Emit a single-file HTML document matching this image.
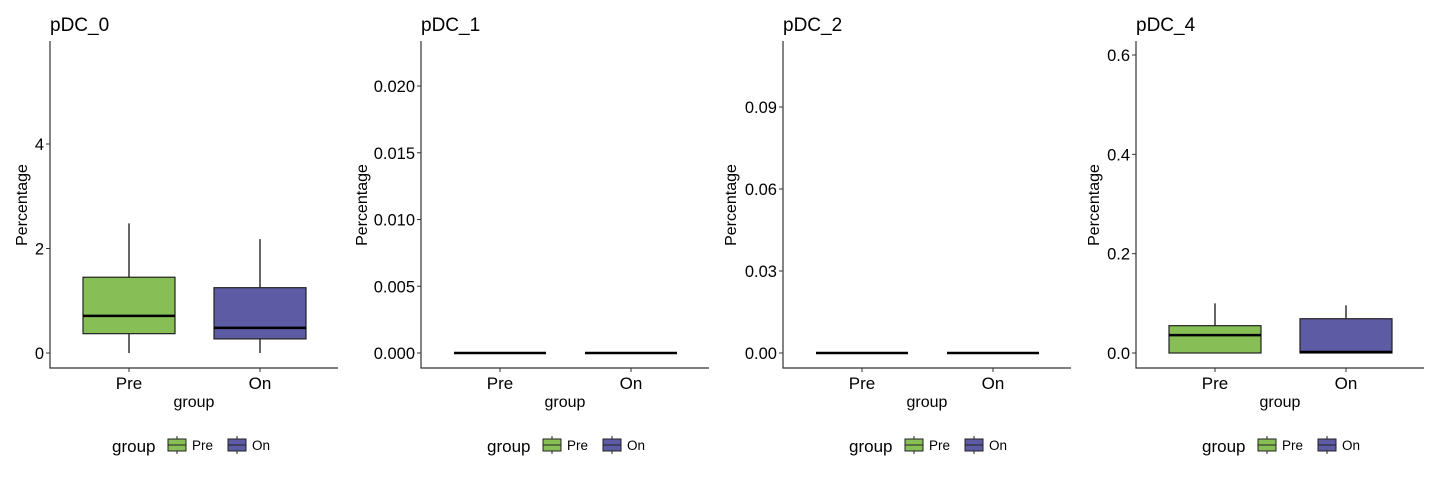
<!DOCTYPE html>
<html><head><meta charset="utf-8"><style>
html,body{margin:0;padding:0;background:#fff}
svg{display:block;font-family:"Liberation Sans",Arial,sans-serif}
</style></head><body>
<svg id="chart" width="1440" height="480"></svg>
<script>
const panelTitles = ["pDC_0","pDC_1","pDC_2","pDC_4"];
const categories = ["Pre","On"];
const tickValues = [[0,2,4],[0,0.005,0.01,0.015,0.02],[0,0.03,0.06,0.09],[0,0.2,0.4,0.6]];
const tickLabels = [["0","2","4"],["0.000","0.005","0.010","0.015","0.020"],["0.00","0.03","0.06","0.09"],["0.0","0.2","0.4","0.6"]];
// [min,q1,median,q3,max] per category
const preStats = [[0,0.37,0.71,1.45,2.48],[0,0,0,0,0],[0,0,0,0,0],[0,0,0.036,0.055,0.1]];
const onStats = [[0,0.27,0.48,1.25,2.18],[0,0,0,0,0],[0,0,0,0,0],[0,0,0.002,0.069,0.096]];
const colors = ["#88BE56","#5E5BA5"];

const NS="http://www.w3.org/2000/svg";
const svg=document.getElementById('chart');
function mk(tag,attrs,parent,text){const e=document.createElementNS(NS,tag);for(const k in attrs)e.setAttribute(k,attrs[k]);if(text!==undefined)e.textContent=text;(parent||svg).appendChild(e);return e;}
const axisXs=[50,421,783,1136];
const yTitleXs=[27,367,736,1099];
const legendXs=[112,487,849,1202];
const topTickY=[144,86,107,55];
const y0=353, axisBottom=368, axisTop=41, panelW=288;
panelTitles.forEach((title,p)=>{
  const ax=axisXs[p];
  const tmax=tickValues[p][tickValues[p].length-1];
  const y=v=>y0-v*(y0-topTickY[p])/tmax;
  const x=i=>ax+79+i*131;
  const g=mk('g',{},svg);
  
  
  const t=mk('text',{x:ax,y:31,'font-size':19,fill:'#000'},g,title);
  
  const axl=mk('path',{d:`M${ax} ${axisTop}V${axisBottom}H${ax+panelW}`,stroke:'#333',fill:'none','stroke-width':1.2},g);
  
  tickValues[p].forEach((v,k)=>{
    mk('line',{x1:ax-4,x2:ax,y1:y(v),y2:y(v),stroke:'#333'},g);
    const tl=mk('text',{x:ax-6,y:y(v)+6,'text-anchor':'end','font-size':16.5,fill:'#000'},g,tickLabels[p][k]);
    
  });
  const yt=mk('text',{transform:`translate(${yTitleXs[p]},${205}) rotate(-90)`,'text-anchor':'middle','font-size':16,fill:'#000'},g,'Percentage');
  
  const xt=mk('text',{x:ax+144,y:407,'text-anchor':'middle','font-size':16,fill:'#000'},g,'group');
  
  [preStats[p],onStats[p]].forEach((s,i)=>{
    const cx=x(i);
    mk('line',{x1:cx,x2:cx,y1:axisBottom,y2:axisBottom+4,stroke:'#333'},g);
    const xl=mk('text',{x:cx,y:389,'text-anchor':'middle','font-size':17,fill:'#000'},g,categories[i]);
    
    const bg=mk('g',{},g);
    
    mk('line',{x1:cx,x2:cx,y1:y(s[0]),y2:y(s[4]),stroke:'#000','stroke-width':1.2},bg);
    mk('rect',{x:cx-46,y:y(s[3]),width:92,height:Math.max(0,y(s[1])-y(s[3])),fill:colors[i],stroke:'#222','stroke-width':1.2},bg);
    mk('line',{x1:cx-46,x2:cx+46,y1:y(s[2]),y2:y(s[2]),stroke:'#000','stroke-width':2.5},bg);
  });
  const lx=legendXs[p];
  const lg=mk('g',{},g);
  
  mk('text',{x:lx,y:452,'font-size':17,fill:'#000'},lg,'group');
  categories.forEach((c,i)=>{
    const kx=lx+56+i*60;
    const e=mk('g',{},lg);
    
    mk('line',{x1:kx+9,x2:kx+9,y1:436,y2:454,stroke:'#222'},e);
    mk('rect',{x:kx,y:439,width:18,height:12,fill:colors[i],stroke:'#222','stroke-width':1},e);
    mk('line',{x1:kx,x2:kx+18,y1:445,y2:445,stroke:'#222'},e);
    mk('text',{x:kx+24,y:450,'font-size':13.5,fill:'#000'},e,c);
  });
});
</script>
</body></html>
